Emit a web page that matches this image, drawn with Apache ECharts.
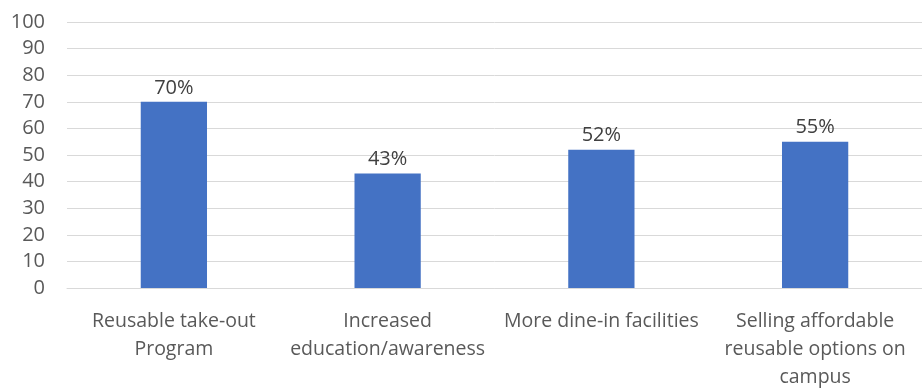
<!DOCTYPE html>
<html>
<head>
<meta charset="utf-8">
<script src="https://cdn.jsdelivr.net/npm/echarts@6/dist/echarts.min.js"></script>
<style>
  html, body { margin: 0; padding: 0; background: #ffffff; }
  #chart { width: 922px; height: 391px; }
</style>
</head>
<body>
<div id="chart"></div>
<script>
// Survey options and the share of respondents that chose each one (%)
const categories = [
  'Reusable take-out\nProgram',
  'Increased\neducation/awareness',
  'More dine-in facilities',
  'Selling affordable\nreusable options on\ncampus'
];
const shares = [70, 43, 52, 55];
const yTicks = [0, 10, 20, 30, 40, 50, 60, 70, 80, 90, 100];

const FONT = '"Open Sans"';
const TEXT = '#595959';
const GRID = '#d9d9d9';

const chart = echarts.init(document.getElementById('chart'));
chart.setOption({
  animation: false,
  grid: { left: 67, right: 0, top: 22, bottom: 102 },
  xAxis: {
    type: 'category',
    data: categories,
    axisTick: { show: false },
    axisLine: { lineStyle: { color: GRID, width: 1 } },
    axisLabel: {
      color: TEXT, fontFamily: FONT, fontSize: 19.5, lineHeight: 28,
      margin: 19, interval: 0
    }
  },
  yAxis: {
    type: 'value',
    min: yTicks[0],
    max: yTicks[yTicks.length - 1],
    interval: yTicks[1] - yTicks[0],
    axisLine: { show: false },
    axisTick: { show: false },
    splitLine: { lineStyle: { color: GRID, width: 1 } },
    axisLabel: { color: TEXT, fontFamily: FONT, fontSize: 20, margin: 22 }
  },
  series: [{
    type: 'bar',
    data: shares,
    barWidth: '31%',
    itemStyle: { color: '#4472C4' },
    label: {
      show: true,
      position: 'top',
      distance: 4,
      color: '#404040',
      fontFamily: FONT,
      fontSize: 20,
      formatter: p => p.value + '%'
    }
  }]
});
</script>
</body>
</html>
